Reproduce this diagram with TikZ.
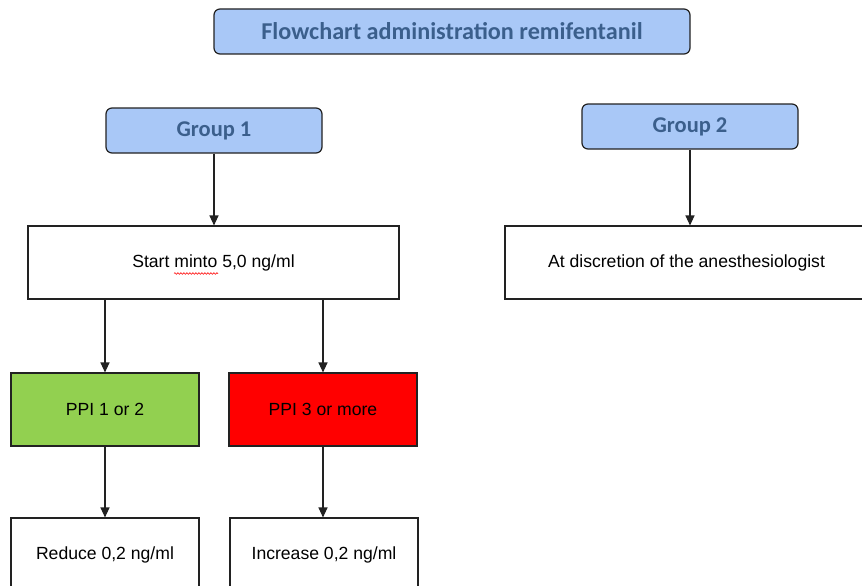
\documentclass[tikz,border=0pt]{standalone}
\usepackage{fontspec}
\setmainfont{Liberation Sans}
\newfontfamily\headfont{Carlito}
\usetikzlibrary{arrows.meta,decorations.pathmorphing}
\definecolor{hdrfill}{HTML}{A9C8F7}
\definecolor{hdrtext}{HTML}{3B5F8C}
\definecolor{okgreen}{HTML}{92D050}
\definecolor{alertred}{HTML}{FF0000}
\definecolor{edge}{HTML}{222222}
\tikzset{
  hdr/.style={draw=edge, line width=1.2pt, fill=hdrfill, rounded corners=6pt,
    inner sep=0pt, text=hdrtext, font=\headfont\bfseries\fontsize{22.5}{26}\selectfont},
  plainbox/.style={draw=edge, line width=1.1pt, fill=white, inner sep=0pt,
    minimum height=73pt, font=\fontsize{17.6}{20}\selectfont},
  flow/.style={draw=edge, line width=1.1pt, -{Triangle[width=9pt,length=10pt]}}
}
\begin{document}
\begin{tikzpicture}[x=1pt,y=-1pt]
\clip (0,0) rectangle (862,586);
\fill[white] (0,0) rectangle (862,586);
\node[hdr, minimum width=476pt, minimum height=45pt, font=\headfont\bfseries\fontsize{24.2}{28}\selectfont] (title) at (452,31.5) {Flowchart administration remifentanil};
\node[hdr, minimum width=216pt, minimum height=45pt] (g1) at (214,130.5) {Group 1};
\node[hdr, minimum width=216pt, minimum height=45pt] (g2) at (690,126.5) {Group 2};
\node[plainbox, minimum width=371pt] (start) at (213.5,262.5) {Start minto 5,0 ng/ml};
\node[plainbox, minimum width=363pt] (disc) at (686.5,262.5) {At discretion of the anesthesiologist};
\node[plainbox, fill=okgreen, minimum width=188pt] (ppia) at (105,409.5) {PPI 1 or 2};
\node[plainbox, fill=alertred, minimum width=188pt] (ppib) at (323,409.5) {PPI 3 or more};
\node[plainbox, minimum width=188pt] (red) at (105,554.5) {Reduce 0,2 ng/ml};
\node[plainbox, minimum width=188pt] (inc) at (324,554.5) {Increase 0,2 ng/ml};
\draw[flow] (g1.south) -- (g1.south |- start.north);
\draw[flow] (g2.south) -- (g2.south |- disc.north);
\draw[flow] (ppia.north |- start.south) -- (ppia.north);
\draw[flow] (ppib.north |- start.south) -- (ppib.north);
\draw[flow] (ppia.south) -- (ppia.south |- red.north);
\draw[flow] (ppib.south) -- (ppib.south |- inc.north);
\draw[red, line width=0.6pt, decorate, decoration={snake, amplitude=0.8pt, segment length=3pt}] (174,273.5) -- (218,273.5);
\end{tikzpicture}
\end{document}
